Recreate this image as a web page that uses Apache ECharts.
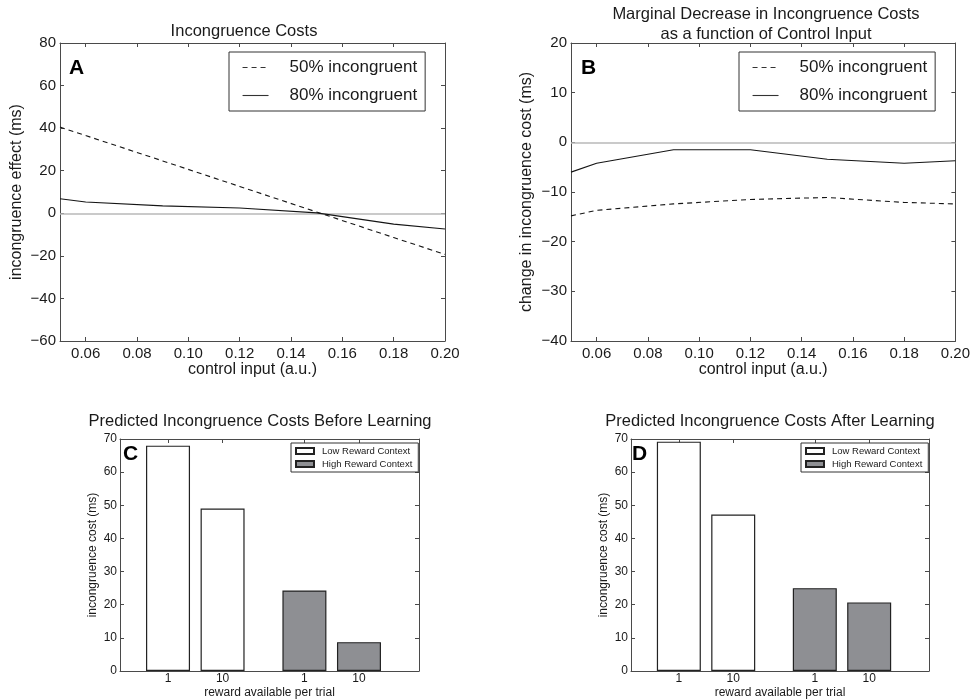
<!DOCTYPE html>
<html>
<head>
<meta charset="utf-8">
<script src="https://cdn.jsdelivr.net/npm/echarts@6/dist/echarts.min.js"></script>
<style>
  html, body { margin: 0; padding: 0; background: #fff; }
  #chart { width: 973px; height: 700px; }
</style>
</head>
<body>
<div id="chart"></div>
<script>
// panels A and B: simulated costs against control input
const controlInput = [0.05, 0.06, 0.09, 0.12, 0.15, 0.18, 0.20]
const costA50 = [40.5, 36.5, 24.6, 12.6, 0.6, -11.4, -19.3]
const costA80 = [6.8, 5.3, 3.5, 2.5, 0.2, -5.1, -7.4]
const changeB50 = [-14.8, -13.7, -12.4, -11.5, -11.1, -12.1, -12.4]
const changeB80 = [-6.0, -4.2, -1.5, -1.5, -3.4, -4.2, -3.7]
const controlTicks = [0.06, 0.08, 0.10, 0.12, 0.14, 0.16, 0.18, 0.20]

// panels C and D: predicted costs per reward level
const rewardLabels = ['1', '10', '1', '10']
const rewardSlots = [1, 2, 3.5, 4.5]
const lowBefore = [68, 49]
const highBefore = [24.3, 8.7]
const lowAfter = [69.2, 47.2]
const highAfter = [25, 20.7]

const FONT = 'Liberation Sans, Arial, Helvetica, sans-serif'
const axisColor = '#4a4a4a'
const textColor = '#1a1a1a'

const signed = v => (v < 0 ? '\u2212' + Math.abs(v) : String(v))
const pairs = (xs, ys) => ys.map((y, i) => [xs[i], y])

function xPair(gridIndex, cfg) {
  const common = {
    gridIndex,
    type: 'value',
    min: cfg.min,
    max: cfg.max,
    axisLine: { onZero: false, lineStyle: { color: axisColor, width: 1 } },
    axisTick: { inside: true, length: 4, customValues: cfg.ticks, lineStyle: { color: axisColor } },
    splitLine: { show: false },
  }
  return [
    {
      ...common,
      position: 'bottom',
      name: cfg.name,
      nameLocation: 'middle',
      nameGap: cfg.nameGap,
      nameTextStyle: { fontFamily: FONT, fontSize: cfg.nameSize, color: textColor },
      axisLabel: {
        customValues: cfg.ticks,
        formatter: cfg.format,
        fontFamily: FONT,
        fontSize: cfg.labelSize,
        color: textColor,
        margin: cfg.margin,
      },
    },
    { ...common, position: 'top', axisLabel: { show: false } },
  ]
}

function yPair(gridIndex, cfg) {
  const common = {
    gridIndex,
    type: 'value',
    min: cfg.min,
    max: cfg.max,
    interval: cfg.interval,
    axisLine: { show: true, onZero: false, lineStyle: { color: axisColor, width: 1 } },
    axisTick: { show: true, inside: true, length: 4, lineStyle: { color: axisColor } },
    splitLine: { show: false },
  }
  return [
    {
      ...common,
      position: 'left',
      name: cfg.name,
      nameLocation: 'middle',
      nameGap: cfg.nameGap,
      nameTextStyle: { fontFamily: FONT, fontSize: cfg.nameSize, color: textColor },
      axisLabel: { formatter: signed, fontFamily: FONT, fontSize: cfg.labelSize, color: textColor, margin: cfg.margin },
    },
    { ...common, position: 'right', axisLabel: { show: false } },
  ]
}

const controlAxis = {
  min: 0.05, max: 0.2, ticks: controlTicks, format: v => v.toFixed(2),
  name: 'control input (a.u.)', nameGap: 21, nameSize: 16, labelSize: 15, margin: 5,
}
const rewardAxis = {
  min: 0.12, max: 5.6, ticks: rewardSlots, format: v => rewardLabels[rewardSlots.indexOf(v)],
  name: 'reward available per trial', nameGap: 16, nameSize: 12, labelSize: 12, margin: 2,
}

const zeroLine = {
  silent: true,
  symbol: ['none', 'none'],
  label: { show: false },
  lineStyle: { color: '#b9b9b9', type: 'solid', width: 1.5 },
  data: [{ yAxis: 0 }],
  z: 1,
}

function lineSeries(name, axisIndex, data, dashed, withZero) {
  return {
    name,
    type: 'line',
    xAxisIndex: axisIndex,
    yAxisIndex: axisIndex,
    data: pairs(controlInput, data),
    symbol: 'none',
    lineStyle: { color: '#151515', width: 1.1, type: dashed ? [5, 4] : 'solid' },
    itemStyle: { color: '#151515' },
    markLine: withZero ? zeroLine : undefined,
    z: 3,
  }
}

function barSeries(name, axisIndex, slots, data, fill) {
  return {
    name,
    type: 'bar',
    xAxisIndex: axisIndex,
    yAxisIndex: axisIndex,
    data: pairs(slots, data),
    barWidth: 44,
    barGap: '-100%',
    itemStyle: { color: fill, borderColor: '#222', borderWidth: 1.2 },
  }
}

const lineLegend = left => ({
  left, top: 52,
  orient: 'vertical',
  data: ['50% incongruent', '80% incongruent'],
  itemWidth: 26, itemHeight: 16, itemGap: 11,
  padding: [7, 8, 7, 13],
  borderColor: '#333', borderWidth: 1,
  itemStyle: { opacity: 0 },
  lineStyle: { width: 1.1, color: '#333' },
  textStyle: { fontFamily: FONT, fontSize: 17, color: textColor, padding: [0, 0, 0, 16] },
})

const barLegend = left => ({
  left, top: 443,
  orient: 'vertical',
  data: ['Low Reward Context', 'High Reward Context'],
  icon: 'rect',
  itemWidth: 18, itemHeight: 6, itemGap: 3,
  padding: [3, 6, 3, 4],
  borderColor: '#333', borderWidth: 1,
  textStyle: { fontFamily: FONT, fontSize: 9.5, color: textColor, padding: [0, 0, 0, 3] },
})

const heading = (text, left, top) => ({
  text, left, top, textAlign: 'center', padding: 0,
  textStyle: { fontFamily: FONT, fontSize: 16.5, fontWeight: 'normal', color: textColor, lineHeight: 19.5 },
})
const letter = (text, left, top) => ({
  text, left, top, padding: 0,
  textStyle: { fontFamily: FONT, fontSize: 21, fontWeight: 'bold', color: '#000' },
})

const option = {
  animation: false,
  backgroundColor: '#fff',
  title: [
    heading('Incongruence Costs', 244, 22),
    heading('Marginal Decrease in Incongruence Costs\nas a function of Control Input', 766, 5),
    heading('Predicted Incongruence Costs Before Learning', 260, 412),
    heading('Predicted Incongruence Costs After Learning', 770, 412),
    letter('A', 69, 58),
    letter('B', 581, 58),
    letter('C', 123, 444),
    letter('D', 632, 444),
  ],
  legend: [lineLegend(229), lineLegend(739), barLegend(291), barLegend(801)],
  grid: [
    { left: 60, top: 43, width: 385, height: 298 },
    { left: 571, top: 43, width: 385, height: 298 },
    { left: 120, top: 439, width: 299, height: 232 },
    { left: 631, top: 439, width: 298, height: 232 },
  ],
  xAxis: [
    ...xPair(0, controlAxis),
    ...xPair(1, controlAxis),
    ...xPair(2, rewardAxis),
    ...xPair(3, rewardAxis),
  ],
  yAxis: [
    ...yPair(0, { min: -60, max: 80, interval: 20, name: 'incongruence effect (ms)', nameGap: 35, nameSize: 16, labelSize: 15, margin: 4 }),
    ...yPair(1, { min: -40, max: 20, interval: 10, name: 'change in incongruence cost (ms)', nameGap: 36, nameSize: 16, labelSize: 15, margin: 4 }),
    ...yPair(2, { min: 0, max: 70, interval: 10, name: 'incongruence cost (ms)', nameGap: 21, nameSize: 12, labelSize: 12, margin: 3 }),
    ...yPair(3, { min: 0, max: 70, interval: 10, name: 'incongruence cost (ms)', nameGap: 21, nameSize: 12, labelSize: 12, margin: 3 }),
  ],
  series: [
    lineSeries('50% incongruent', 0, costA50, true, false),
    lineSeries('80% incongruent', 0, costA80, false, true),
    lineSeries('50% incongruent', 2, changeB50, true, false),
    lineSeries('80% incongruent', 2, changeB80, false, true),
    barSeries('Low Reward Context', 4, rewardSlots.slice(0, 2), lowBefore, '#ffffff'),
    barSeries('High Reward Context', 4, rewardSlots.slice(2), highBefore, '#8e8f93'),
    barSeries('Low Reward Context', 6, rewardSlots.slice(0, 2), lowAfter, '#ffffff'),
    barSeries('High Reward Context', 6, rewardSlots.slice(2), highAfter, '#8e8f93'),
  ],
}

const chart = echarts.init(document.getElementById('chart'))
chart.setOption(option)
</script>
</body>
</html>
